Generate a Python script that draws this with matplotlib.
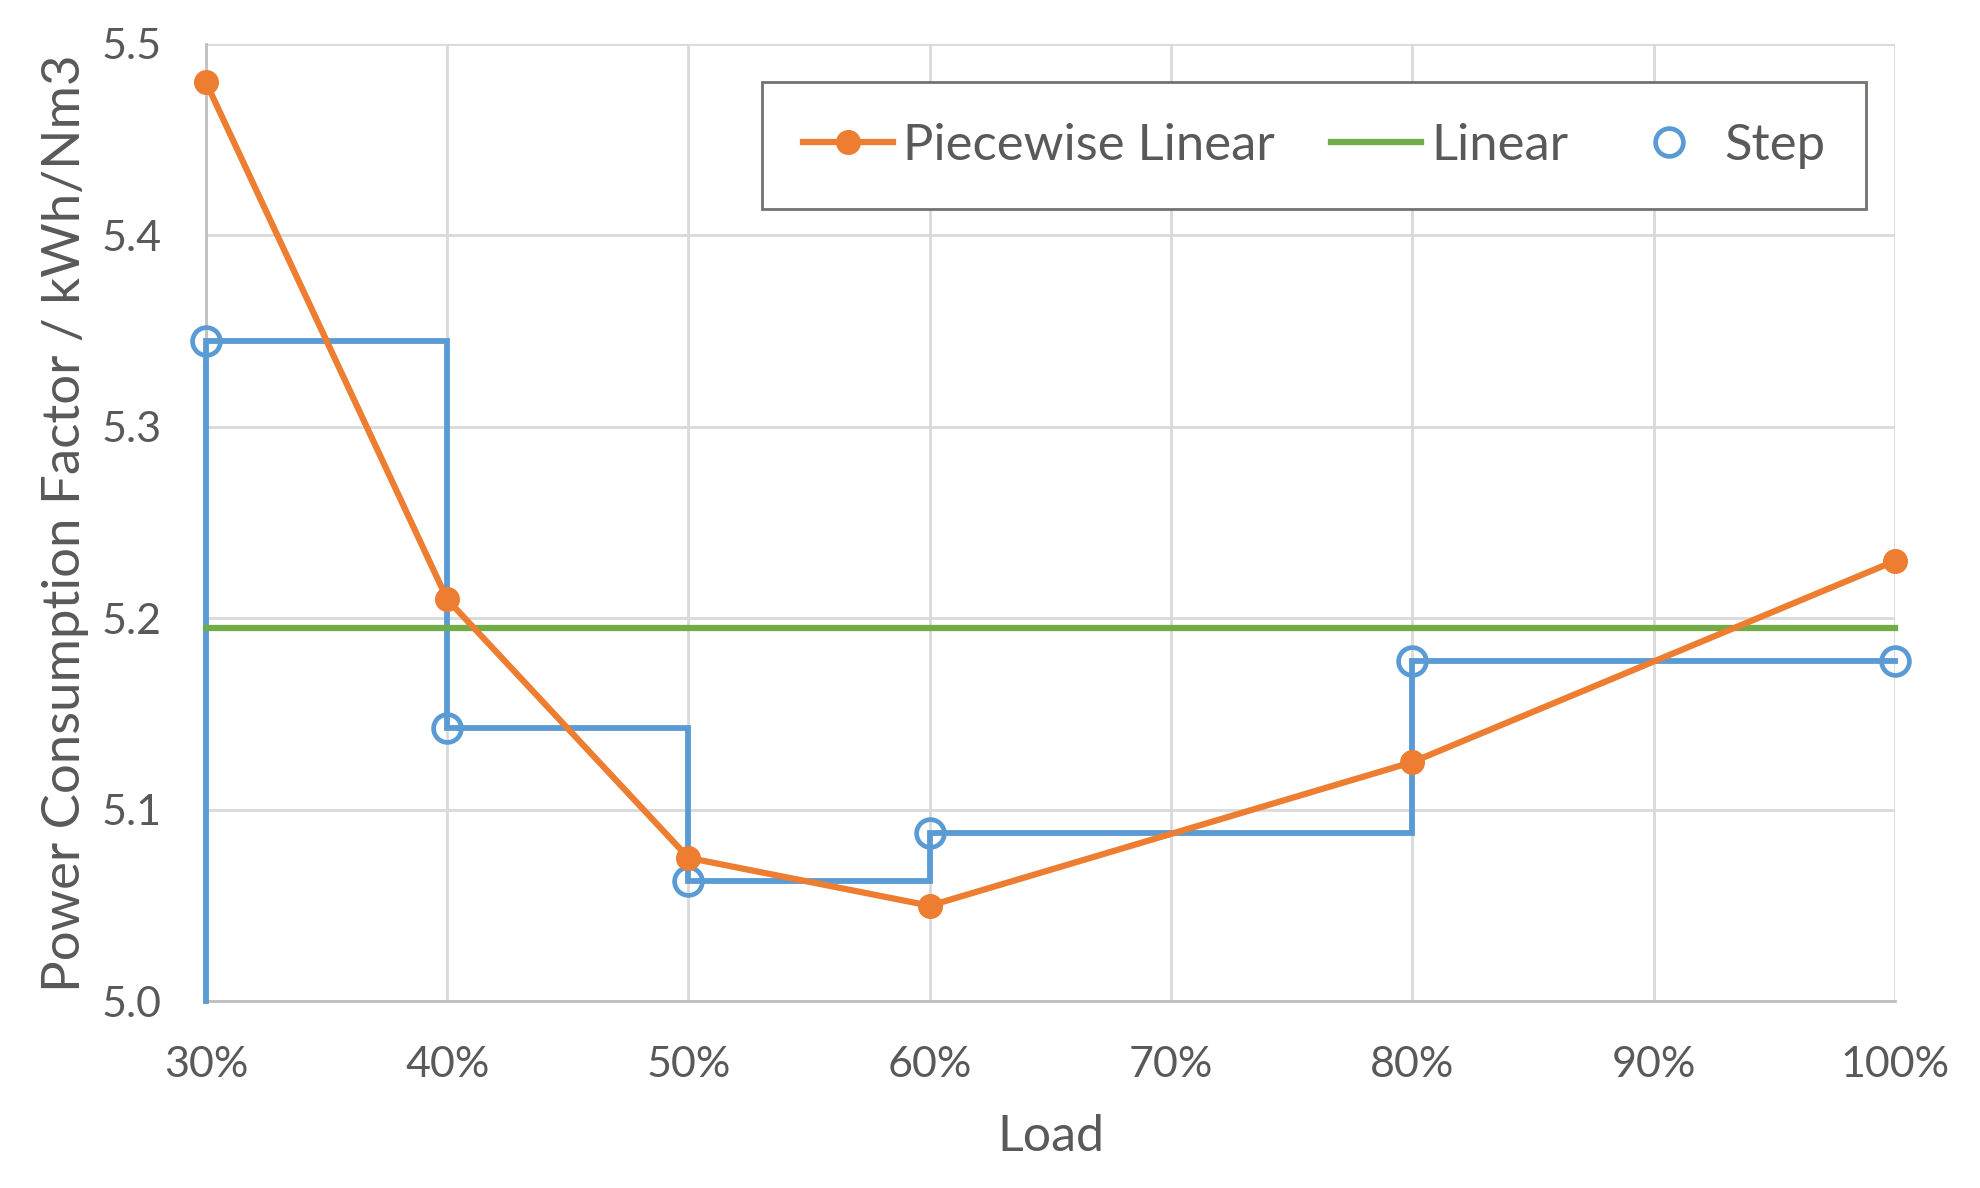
import numpy as np
import matplotlib.pyplot as plt
from matplotlib.lines import Line2D
from matplotlib.ticker import PercentFormatter

# Data
load = [0.3, 0.4, 0.5, 0.6, 0.8, 1.0]
piecewise = [5.48, 5.21, 5.075, 5.05, 5.125, 5.23]
linear_x = [0.3, 1.0]
linear_y = [5.195, 5.195]
step_vals = [5.345, 5.143, 5.063, 5.088, 5.178, 5.178]
step_base = 5.0

x_ticks = [0.3, 0.4, 0.5, 0.6, 0.7, 0.8, 0.9, 1.0]
y_ticks = [5.0, 5.1, 5.2, 5.3, 5.4, 5.5]

orange = '#ED7D31'
green = '#70AD47'
blue = '#5B9BD5'
text_col = '#595959'

plt.rcParams['font.family'] = ['Lato', 'DejaVu Sans']

fig = plt.figure(figsize=(19.8, 11.88), dpi=100)
ax = fig.add_axes([0.104, 0.157, 0.853, 0.806])

# step series: vertical rise from the axis, then steps-post
ax.plot([load[0]] + load, [step_base] + step_vals, drawstyle='steps-post',
        color=blue, lw=4.2, zorder=3, solid_joinstyle='miter', clip_on=False)
ax.plot(load, step_vals, 'o', ms=20, mfc='none', mec=blue, mew=3.4,
        zorder=4, clip_on=False)
ax.plot(linear_x, linear_y, color=green, lw=4.5, zorder=3, clip_on=False)
ax.plot(load, piecewise, '-o', color=orange, lw=4.5, ms=17, zorder=5,
        clip_on=False)

ax.set_xlim(0.3, 1.0)
ax.set_ylim(5.0, 5.5)
ax.set_xticks(x_ticks)
ax.set_yticks(y_ticks)
ax.xaxis.set_major_formatter(PercentFormatter(1.0, decimals=0))
ax.yaxis.set_major_formatter(plt.FormatStrFormatter('%.1f'))

ax.grid(True, color='#D9D9D9', lw=2)
ax.set_axisbelow(True)
for s in ['top', 'right']:
    ax.spines[s].set_visible(False)
for s in ['left', 'bottom']:
    ax.spines[s].set_color('#BFBFBF')
    ax.spines[s].set_linewidth(2)
ax.tick_params(length=0, pad=32, labelsize=31, labelcolor=text_col)

ax.set_xlabel('Load', fontsize=36, color=text_col, labelpad=22)
ax.set_ylabel('Power Consumption Factor / kWh/Nm3', fontsize=38,
              color=text_col, labelpad=9)

handles = [
    Line2D([], [], color=orange, lw=4.5, marker='o', ms=17),
    Line2D([], [], color=green, lw=4.5),
    Line2D([], [], ls='none', marker='o', ms=20, mfc='none', mec=blue, mew=3.4),
]
leg = ax.legend(handles, ['Piecewise Linear', 'Linear', 'Step'], ncol=3,
                loc='upper right', bbox_to_anchor=(0.983, 0.960),
                borderaxespad=0, fontsize=36.5, frameon=True, fancybox=False,
                framealpha=1, edgecolor='#767171', borderpad=0.8,
                handlelength=1.78, handletextpad=0.2, columnspacing=1.1,
                labelcolor=text_col)
leg.get_frame().set_linewidth(2)

fig.savefig('out.png', dpi=100)
